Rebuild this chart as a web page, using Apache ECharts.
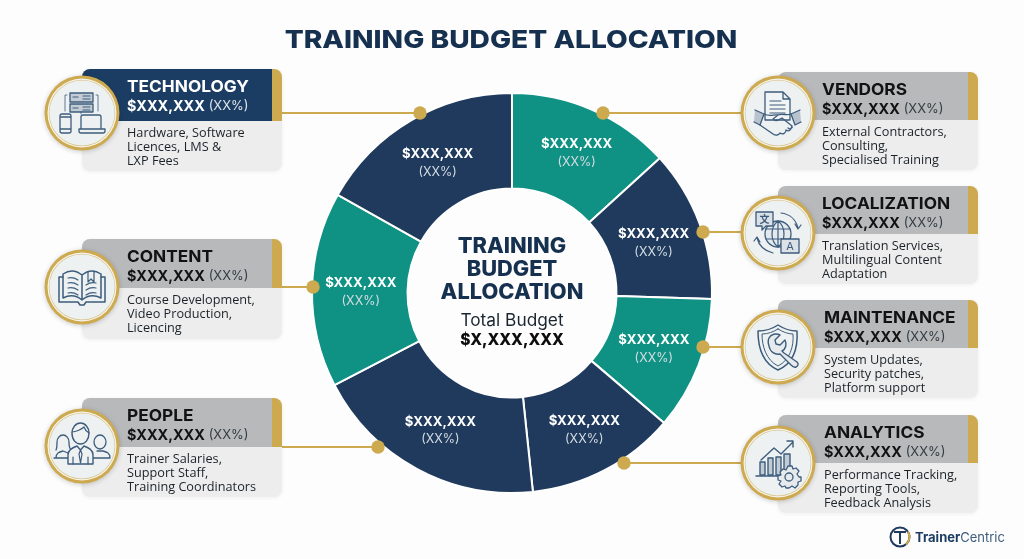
<!DOCTYPE html>
<html><head><meta charset="utf-8">
<style>html,body{margin:0;padding:0;background:#fdfdfd}#c{width:1024px;height:559px}</style>
<script src="https://cdn.jsdelivr.net/npm/echarts@6/dist/echarts.min.js"></script>
</head><body><div id="c"></div>
<script>
// ---------- data ----------
var categories = ['VENDORS','LOCALIZATION','MAINTENANCE','ANALYTICS','PEOPLE','CONTENT','TECHNOLOGY'];
var sliceSizes = [47.6,44.1,38.8,43.5,68.6,56.8,60.6];
var amountLabels = ['$XXX,XXX','$XXX,XXX','$XXX,XXX','$XXX,XXX','$XXX,XXX','$XXX,XXX','$XXX,XXX'];
var percentLabels = ['(XX%)','(XX%)','(XX%)','(XX%)','(XX%)','(XX%)','(XX%)'];
var descriptions = [
 ['External Contractors,','Consulting,','Specialised Training'],
 ['Translation Services,','Multilingual Content','Adaptation'],
 ['System Updates,','Security patches,','Platform support'],
 ['Performance Tracking,','Reporting Tools,','Feedback Analysis'],
 ['Trainer Salaries,','Support Staff,','Training Coordinators'],
 ['Course Development,','Video Production,','Licencing'],
 ['Hardware, Software','Licences, LMS &','LXP Fees']
];
var chartTitle = 'TRAINING BUDGET ALLOCATION';
var centerTitle = ['TRAINING','BUDGET','ALLOCATION'];
var centerTotal = ['Total Budget','$X,XXX,XXX'];

// ---------- styling / layout ----------
var NAVY='#1f3a5c', TEAL='#0f9284', GOLD='#cdaa50', ICON='#3d5c7c';
var sliceColors=[TEAL,NAVY,TEAL,NAVY,NAVY,TEAL,NAVY];
var labelNudges=[[2,2],[-4,4],[-3,0],[0,0],[2,1],[4,2],[4,4]];
var FONT_H='Inter', FONT_B='"Open Sans"';
var cards=[
 {x:778,t:72,b:170,h:120,cy:113,dx:603,dy:113,side:'R',tx:822},
 {x:778,t:186,b:284,h:234,cy:233,dx:703,dy:232,side:'R',tx:822},
 {x:778,t:300,b:398,h:348,cy:347,dx:703,dy:347,side:'R',tx:824},
 {x:778,t:415,b:513,h:463,cy:463,dx:624,dy:463,side:'R',tx:824},
 {x:82,t:398,b:497,h:447,cy:446,dx:378,dy:447,side:'L',tx:127},
 {x:82,t:239,b:339,h:288,cy:287,dx:313,dy:287,side:'L',tx:127},
 {x:82,t:69,b:171,h:121,cy:113,dx:420,dy:113,side:'L',tx:127,dark:true}
];
var CARD_W=200;

var shapeSeq=0;
function P(d,w,fill){
  var name='iconPath'+(shapeSeq++);
  echarts.graphic.registerShape(name,echarts.graphic.extendPath(d,{}));
  return {type:name,silent:true,style:{stroke:ICON,fill:fill||null,lineWidth:w||1.3,lineCap:'round',lineJoin:'round'}};
}
var icons={
 VENDORS:function(){return [
  P('M-13,-21 H5 L12,-14 V7 H-13 Z M5,-21 V-14 H12',1.3,'#f1f3f4'),
  P('M-8,-12 H3 M-8,-8 H7 M-8,-4 H7 M-8,0 H7',1.2),
  P('M-23,-3 L-14,1 L-18,12 L-24,9',1.3,'#b9c3cd'),
  P('M22,-3 L13,1 L17,12 L23,9',1.3,'#b9c3cd'),
  P('M-14,1 C-8,4 -4,1 0,2 L-5,6 C-3,9 1,7 4,5 L14,13 C15,15 12,17 10,15 M-18,12 L-5,21 C-2,23 1,22 2,20 M2,20 C5,22 8,20 8,17 M8,17 C11,19 13,17 14,13 M0,2 C4,0 9,3 13,1',1.3)
 ];},
 LOCALIZATION:function(){return [
  P('M-13,1 A13,13 0 1 0 13,1 A13,13 0 1 0 -13,1 Z',1.3,'#e4e9ed'),
  P('M-12,-4 H12 M-12,6 H12 M0,-12 V14 M0,-12 C-8,-6 -8,8 0,14 M0,-12 C8,-6 8,8 0,14',1.2),
  P('M-22,-21 H-5 V-7 H-12 L-16,-3 V-7 H-22 Z',1.3,'#dbe1e6'),
  {type:'text',x:-13.5,y:-14,silent:true,style:{text:'文',font:'bold 10px "Noto Sans CJK SC"',fill:ICON,align:'center',verticalAlign:'middle'}},
  P('M3,6 H21 V20 H3 Z',1.3,'#dbe1e6'),
  {type:'text',x:12,y:13.5,silent:true,style:{text:'A',font:'11px Inter',fill:ICON,align:'center',verticalAlign:'middle'}},
  P('M3,-20 C12,-19 18,-13 20,-5 M17,-9 L20,-4 L23,-8',1.2),
  P('M-21,5 C-19,13 -13,18 -5,20 M-18,9 L-21,4 L-24,8',1.2)
 ];},
 MAINTENANCE:function(){return [
  P('M0,-22 C6,-18 13,-16 19,-16 C20,0 16,16 0,23 C-16,16 -20,0 -20,-16 C-13,-16 -6,-18 0,-22 Z',1.5),
  P('M0,-18 C5,-15 10,-13 15,-13 C16,-1 12,13 0,19 C-12,13 -16,-1 -16,-13 C-10,-13 -5,-15 0,-18 Z',1),
  P('M-9,-9 C-7,-13 -2,-14 2,-12 L-3,-7 L-2,-3 L2,-2 L7,-7 C9,-3 8,2 4,4 L6,6 L19,15 C21,17 20,19 18,20 C16,21 15,20 13,18 L2,7 C-3,8 -8,5 -9,-1 C-10,-4 -10,-7 -9,-9 Z',1.4,'#e6eaed')
 ];},
 ANALYTICS:function(){return [
  P('M-18,12 H-13 V-1 H-18 Z M-10,12 H-5 V-5 H-10 Z M-2,12 H3 V-6 H-2 Z M6,8 H12 V-9 H6 Z',1.4,'#c3ccd5'),
  P('M-22,13 H4',1.5),
  P('M-17,-3 L-4,-15 L3,-9 L15,-21 M9,-22 H15 V-16',1.4),
  P('M10,3 L14,3 L15,6 L18,5 L21,8 L19,11 L21,14 L23,14 V18 L20,19 L20,22 L17,25 L14,23 L11,25 H8 L7,23 L4,24 L1,21 L3,18 L0,17 V13 L3,12 L2,9 L5,6 L8,7 Z',1.3,'#e6eaed'),
  P('M7,14 A4,4 0 1 0 15,14 A4,4 0 1 0 7,14 Z',1.3)
 ];},
 PEOPLE:function(){return [
  P('M-13,-4 A6,7 0 1 0 -25,-4 C-25,0 -25,2 -26,4 M-13,-4 C-13,0 -13,2 -11,4',1.3),
  P('M-26,12 C-26,7 -23,6 -19,5 L-14,7 M-28,12 H-11',1.3),
  P('M24,-4 A6,7 0 1 0 12,-4 A6,7 0 1 0 24,-4 Z',1.3),
  P('M28,12 C28,7 25,6 21,5 L15,5 M28,12 H11',1.3),
  P('M7,-13 A8.5,10 0 1 0 -10,-13 C-10,-6 -6,-2 -1.5,-2 C3,-2 7,-6 7,-13 Z',1.4,'#eef1f2'),
  P('M-10,-14 C-6,-14 0,-17 2,-19 C3,-16 5,-14 7,-13',1.2),
  P('M-14,18 V9 C-14,4 -10,2 -5,0 L-1.5,4 L2,0 C7,2 11,4 11,9 V18 Z',1.4,'#eef1f2'),
  P('M-1.5,4 L-3,8 L-1.5,17 L0,8 Z M-9,18 V11 M6,18 V11',1.2)
 ];},
 CONTENT:function(){return [
  P('M-19,-13 C-13,-17 -6,-17 0,-12 C6,-17 13,-17 19,-13 V11 C13,8 6,8 0,13 C-6,8 -13,8 -19,11 Z M0,-12 V13',1.5,'#eef1f2'),
  P('M-19,-10 H-23 V15 H-4 L-2,18 H2 L4,15 H23 V-10 H19',1.5),
  P('M-14,-9 C-10,-10 -7,-9 -4,-7 M-14,-4 C-10,-5 -7,-4 -4,-2 M-14,1 C-10,0 -7,1 -4,3 M-14,6 C-10,5 -7,6 -4,8 M4,-2 C7,-4 10,-5 14,-4 M4,3 C7,1 10,0 14,1 M4,8 C7,6 10,5 14,6',1.2),
  P('M6,-15 V-5 L9,-8 L12,-5 V-16',1.2)
 ];},
 TECHNOLOGY:function(){return [
  P('M-12,-20 H11 V-11 H-12 Z M-12,-9 H11 V-1 H-12 Z',1.3,'#c3ccd5'),
  P('M-9,-16 H-4 M-9,-5 H-4 M1,-17 H8 M1,-14 H8 M1,-6 H8 M1,-3 H8',1.2),
  P('M14,-18 H16 V-2 M-15,-18 H-17 V-2 M-1,-1 V1',0.8),
  P('M-22,3 Q-22,1 -20,1 H-13 Q-11,1 -11,3 V18 Q-11,20 -13,20 H-20 Q-22,20 -22,18 Z M-22,4 H-11 M-22,16 H-11',1.3),
  P('M-1,16 V4 Q-1,2 1,2 H17 Q19,2 19,4 V16 Z M-3,16 H23 V18 Q23,20 21,20 H-1 Q-3,20 -3,18 Z',1.3,'#eef1f2')
 ];}
};

var g=[];
function T(x,y,text,font,fill,align,extra,sx){
  var st={text:text,font:font,fill:fill,align:align||'left',verticalAlign:'middle'};
  if(extra)Object.assign(st,extra);
  g.push({type:'text',x:x,y:y,scaleX:sx||1,z:20,silent:true,style:st});
}
T(511,40,chartTitle,'800 25px '+FONT_H,'#16304f','center',null,1.125);

cards.forEach(function(c){
  var x0=c.side==='L'?c.x+CARD_W:c.x-30;
  g.push({type:'line',z:1,silent:true,shape:{x1:x0,y1:c.dy,x2:c.dx,y2:c.dy},style:{stroke:GOLD,lineWidth:2}});
});

cards.forEach(function(c,i){
  var w=CARD_W, headCol=c.dark?'#1c3d63':'#b8b9bb', txt=c.dark?'#ffffff':'#121212', pct=c.dark?'#dfe5ea':'#333c44';
  g.push({type:'rect',z:5,silent:true,shape:{x:c.x,y:c.t,width:w,height:c.b-c.t,r:8},style:{fill:'#ededed',shadowBlur:4,shadowColor:'rgba(0,0,0,0.06)',shadowOffsetY:1}});
  g.push({type:'rect',z:6,silent:true,shape:{x:c.x,y:c.t,width:w-10,height:c.h-c.t,r:[8,0,0,0]},style:{fill:headCol}});
  g.push({type:'rect',z:6,silent:true,shape:{x:c.x+w-10,y:c.t,width:10,height:c.h-c.t,r:[0,8,0,0]},style:{fill:GOLD}});
  T(c.tx,c.t+18,categories[i],'700 16px '+FONT_H,txt,'left',null,1.08);
  T(c.tx,c.t+37,'{a|'+amountLabels[i]+'} {b|'+percentLabels[i]+'}','14px '+FONT_H,txt,'left',{rich:{
    a:{font:'700 15px '+FONT_H,fill:txt},
    b:{font:'400 13.5px '+FONT_H,fill:pct}
  }},0.96);
  descriptions[i].forEach(function(l,k){ T(c.tx,c.h+12.5+k*14,l,'12.7px '+FONT_B,'#1c2228'); });
  g.push({type:'circle',z:10,silent:true,shape:{cx:c.x,cy:c.cy,r:37.5},style:{fill:GOLD,shadowBlur:5,shadowColor:'rgba(0,0,0,0.2)',shadowOffsetY:1}});
  g.push({type:'circle',z:11,silent:true,shape:{cx:c.x,cy:c.cy,r:34.5},style:{fill:'#f6f4ec'}});
  g.push({type:'circle',z:12,silent:true,shape:{cx:c.x,cy:c.cy,r:33.3},style:{fill:'#d9c68c'}});
  g.push({type:'circle',z:13,silent:true,shape:{cx:c.x,cy:c.cy,r:32.6},style:{fill:'#eef1f2'}});
  g.push({type:'group',z:14,x:c.x,y:c.cy,children:icons[categories[i]]().map(function(e){e.z=14;return e;})});
  g.push({type:'circle',z:15,silent:true,shape:{cx:c.dx,cy:c.dy,r:6.7},style:{fill:GOLD}});
});

[246.5,269.5,292.5].forEach(function(y,i){ T(512,y,centerTitle[i],'800 21px '+FONT_H,'#16304f','center',null,1.04); });
T(512,321,centerTotal[0],'400 17.3px '+FONT_H,'#1a2530','center');
T(512,340,centerTotal[1],'800 16.5px '+FONT_H,'#0d0d0d','center',null,0.94);

g.push({type:'circle',z:5,silent:true,shape:{cx:900,cy:537,r:9.5},style:{fill:'#fdfdfd',stroke:NAVY,lineWidth:2}});
g.push({type:'arc',z:6,silent:true,shape:{cx:900,cy:537,r:9.5,startAngle:-0.6,endAngle:0.9},style:{stroke:GOLD,lineWidth:2,fill:null}});
g.push({type:'line',z:6,silent:true,shape:{x1:894,y1:532,x2:906,y2:532},style:{stroke:NAVY,lineWidth:2}});
g.push({type:'line',z:6,silent:true,shape:{x1:900,y1:532,x2:900,y2:544},style:{stroke:NAVY,lineWidth:2}});
T(915,538,'{a|Trainer}{b|Centric}','13px '+FONT_H,NAVY,'left',{rich:{a:{font:'700 13px '+FONT_H,fill:'#1c3d63'},b:{font:'400 13px '+FONT_H,fill:'#3d5c7c'}}});

var chart=echarts.init(document.getElementById('c'),null,{renderer:'canvas'});
chart.setOption({
  animation:false,
  backgroundColor:'#fdfdfd',
  series:[{
    type:'pie',
    z:2,
    center:[512,293],
    radius:[104.5,200],
    startAngle:90,
    clockwise:true,
    avoidLabelOverlap:false,
    silent:true,
    itemStyle:{borderColor:'#ffffff',borderWidth:2},
    labelLine:{show:false},
    label:{
      show:true,position:'inside',
      formatter:function(p){return '{a|'+amountLabels[p.dataIndex]+'}\n{b|'+percentLabels[p.dataIndex]+'}';},
      rich:{
        a:{fontFamily:FONT_H,fontWeight:700,fontSize:13.2,color:'#ffffff',lineHeight:18,align:'center'},
        b:{fontFamily:FONT_H,fontWeight:400,fontSize:12.5,color:'#d5dde3',lineHeight:18,align:'center'}
      }
    },
    data:categories.map(function(n,i){return {name:n,value:sliceSizes[i],itemStyle:{color:sliceColors[i]},label:{offset:labelNudges[i]}};})
  }],
  graphic:{elements:g}
});
</script></body></html>
